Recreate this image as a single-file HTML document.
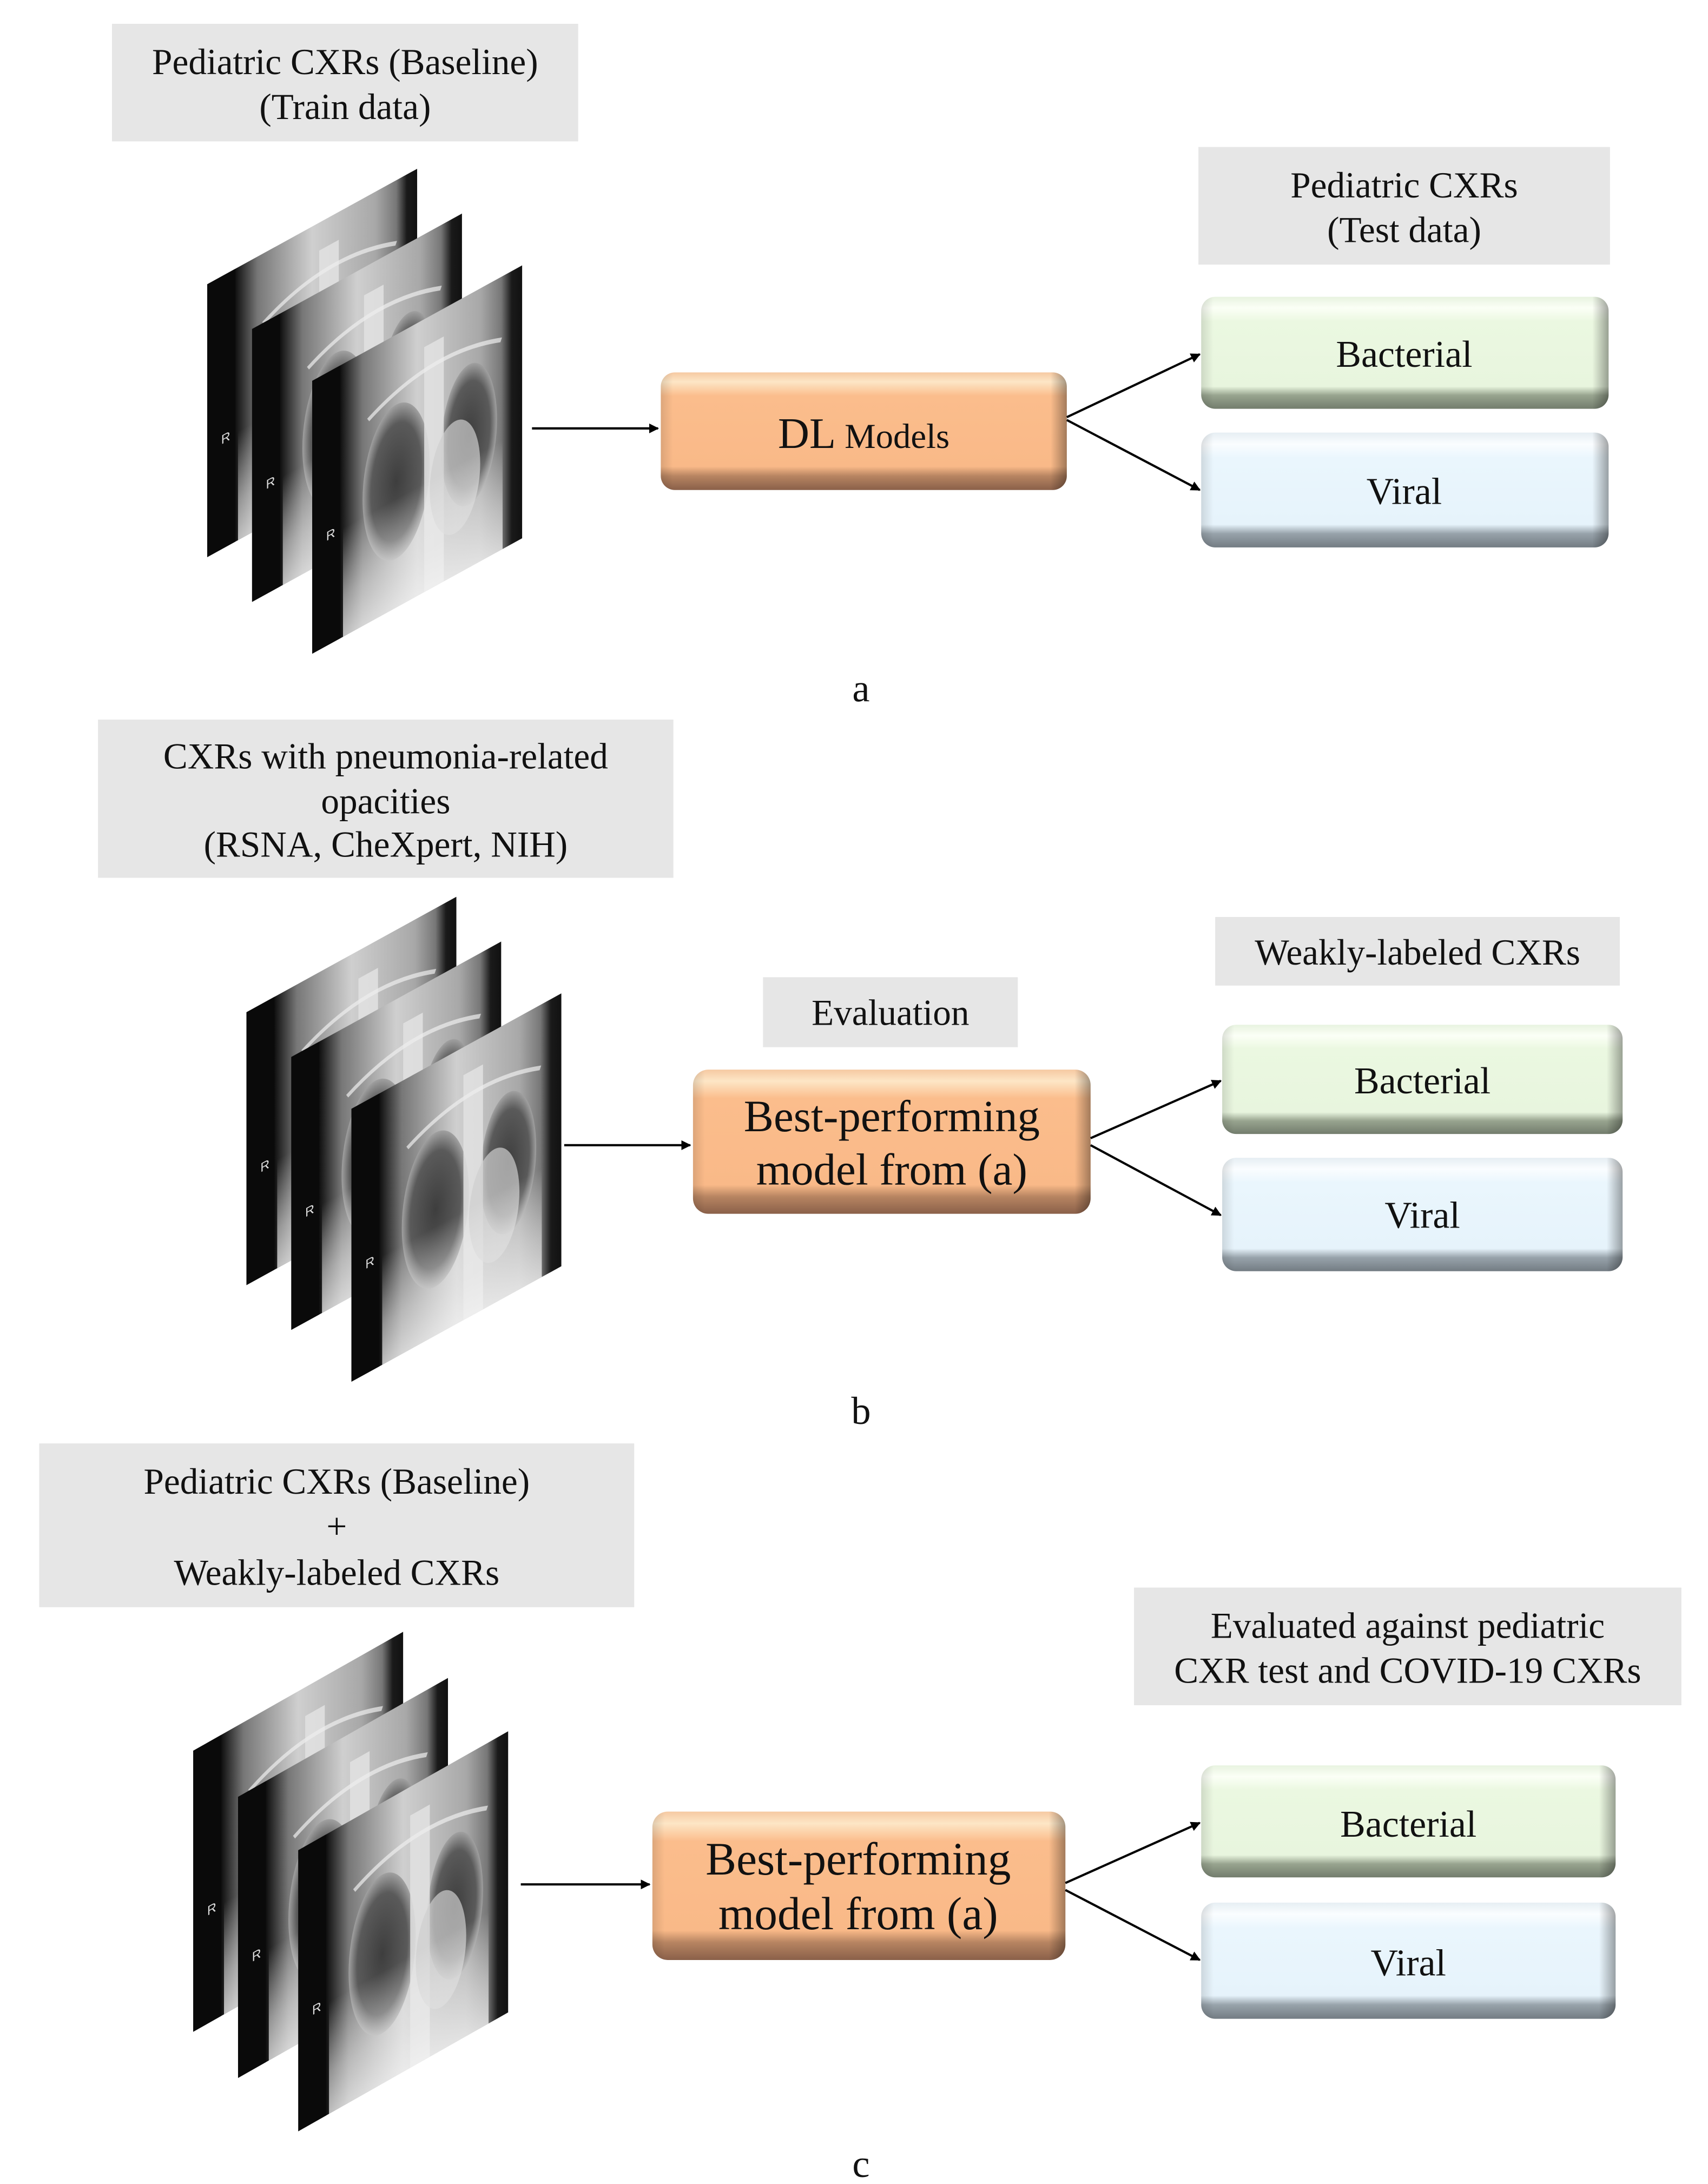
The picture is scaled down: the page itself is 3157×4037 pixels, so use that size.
<!DOCTYPE html>
<html><head><meta charset="utf-8">
<style>
html,body{margin:0;padding:0;background:#fff;}
svg{display:block;}
text{font-family:"Liberation Serif",serif;fill:#111;}
</style></head>
<body>
<svg width="3157" height="4037" viewBox="0 0 1220 1560" preserveAspectRatio="none" xmlns="http://www.w3.org/2000/svg">
<defs>
  <marker id="ah" viewBox="0 0 10 10" refX="9" refY="5" markerWidth="7" markerHeight="7" orient="auto" markerUnits="userSpaceOnUse">
    <path d="M0,0 L10,5 L0,10 z" fill="#000"/>
  </marker>
  <linearGradient id="gOr" x1="0" y1="0" x2="0" y2="1">
    <stop offset="0" stop-color="#f6c9a2"/>
    <stop offset="0.08" stop-color="#fde6c6"/>
    <stop offset="0.2" stop-color="#fbbd8c"/>
    <stop offset="0.8" stop-color="#f9b988"/>
    <stop offset="0.88" stop-color="#b88562"/>
    <stop offset="1" stop-color="#8a6049"/>
  </linearGradient>
  <linearGradient id="gGr" x1="0" y1="0" x2="0" y2="1">
    <stop offset="0" stop-color="#e8f3e0"/>
    <stop offset="0.1" stop-color="#fbfff6"/>
    <stop offset="0.22" stop-color="#ebf8e1"/>
    <stop offset="0.8" stop-color="#e8f5de"/>
    <stop offset="0.88" stop-color="#98a48f"/>
    <stop offset="1" stop-color="#737d6d"/>
  </linearGradient>
  <linearGradient id="gBl" x1="0" y1="0" x2="0" y2="1">
    <stop offset="0" stop-color="#e6eef3"/>
    <stop offset="0.1" stop-color="#fafdff"/>
    <stop offset="0.22" stop-color="#eaf6fd"/>
    <stop offset="0.8" stop-color="#e6f3fb"/>
    <stop offset="0.88" stop-color="#98a3ab"/>
    <stop offset="1" stop-color="#737c83"/>
  </linearGradient>
  <linearGradient id="gSide" x1="0" y1="0" x2="1" y2="0">
    <stop offset="0" stop-color="#000" stop-opacity="0.12"/>
    <stop offset="0.03" stop-color="#000" stop-opacity="0"/>
    <stop offset="0.96" stop-color="#000" stop-opacity="0"/>
    <stop offset="1" stop-color="#000" stop-opacity="0.35"/>
  </linearGradient>
  <linearGradient id="xBody" x1="0" y1="0" x2="1" y2="0">
    <stop offset="0" stop-color="#080808"/>
    <stop offset="0.13" stop-color="#0c0c0c"/>
    <stop offset="0.24" stop-color="#777"/>
    <stop offset="0.5" stop-color="#cfcfcf"/>
    <stop offset="0.8" stop-color="#a8a8a8"/>
    <stop offset="0.9" stop-color="#777"/>
    <stop offset="0.95" stop-color="#1a1a1a"/>
    <stop offset="1" stop-color="#111"/>
  </linearGradient>
  <linearGradient id="xBot" x1="0" y1="0" x2="0" y2="1">
    <stop offset="0.6" stop-color="#fff" stop-opacity="0"/>
    <stop offset="0.85" stop-color="#eee" stop-opacity="0.55"/>
    <stop offset="1" stop-color="#f4f4f4" stop-opacity="0.75"/>
  </linearGradient>
  <radialGradient id="lung" cx="0.5" cy="0.5" r="0.5">
    <stop offset="0" stop-color="#3e3e3e"/>
    <stop offset="0.75" stop-color="#5a5a5a"/>
    <stop offset="1" stop-color="#a0a0a0"/>
  </radialGradient>
  <clipPath id="xc"><rect x="0" y="0" width="150" height="195"/></clipPath>
  <g id="xray">
    <g clip-path="url(#xc)">
      <rect x="0" y="0" width="150" height="195" fill="url(#xBody)"/>
      <ellipse cx="60" cy="105" rx="24" ry="55" fill="url(#lung)"/>
      <ellipse cx="112" cy="100" rx="20" ry="50" fill="url(#lung)"/>
      <rect x="80" y="20" width="14" height="175" fill="#e2e2e2" opacity="0.85"/>
      <ellipse cx="102" cy="125" rx="18" ry="40" fill="#cfcfcf" opacity="0.7"/>
      <rect x="22" y="0" width="114" height="195" fill="url(#xBot)"/>
      <rect x="0" y="0" width="20" height="195" fill="#0a0a0a"/>
      <path d="M40,50 Q85,25 135,45" stroke="#eee" stroke-width="3" fill="none" opacity="0.7"/>
    </g>
    <text x="10" y="120" font-size="9" style="fill:#ddd;font-family:'Liberation Sans',sans-serif">R</text>
  </g>
  <g id="stack">
    <use href="#xray" transform="matrix(1,-0.55,0,1,0,83)"/>
    <use href="#xray" transform="matrix(1,-0.55,0,1,32,115)"/>
    <use href="#xray" transform="matrix(1,-0.55,0,1,75,152)"/>
  </g>
</defs>

<!-- ===== Panel a ===== -->
<rect x="80" y="17" width="333" height="84" fill="#e6e6e6"/>
<text x="246.5" y="53" font-size="26" text-anchor="middle">Pediatric CXRs (Baseline)</text>
<text x="246.5" y="85" font-size="26" text-anchor="middle">(Train data)</text>

<use href="#stack" transform="translate(148,120)"/>

<line x1="380" y1="306" x2="470" y2="306" stroke="#000" stroke-width="1.6" marker-end="url(#ah)"/>

<rect x="472" y="266" width="290" height="84" rx="10" fill="url(#gOr)"/>
<rect x="472" y="266" width="290" height="84" rx="10" fill="url(#gSide)"/>
<text x="617" y="320" text-anchor="middle"><tspan font-size="31">DL</tspan><tspan font-size="25"> Models</tspan></text>

<rect x="856" y="105" width="294" height="84" fill="#e6e6e6"/>
<text x="1003" y="141" font-size="26" text-anchor="middle">Pediatric CXRs</text>
<text x="1003" y="173" font-size="26" text-anchor="middle">(Test data)</text>

<line x1="762" y1="298" x2="857" y2="253" stroke="#000" stroke-width="1.6" marker-end="url(#ah)"/>
<line x1="762" y1="300" x2="857" y2="350" stroke="#000" stroke-width="1.6" marker-end="url(#ah)"/>

<rect x="858" y="212" width="291" height="80" rx="10" fill="url(#gGr)"/>
<rect x="858" y="212" width="291" height="80" rx="10" fill="url(#gSide)"/>
<text x="1003" y="262" font-size="27" text-anchor="middle">Bacterial</text>
<rect x="858" y="309" width="291" height="82" rx="10" fill="url(#gBl)"/>
<rect x="858" y="309" width="291" height="82" rx="10" fill="url(#gSide)"/>
<text x="1003" y="360" font-size="27" text-anchor="middle">Viral</text>

<text x="615" y="501" font-size="28" text-anchor="middle">a</text>

<!-- ===== Panel b ===== -->
<rect x="70" y="514" width="411" height="113" fill="#e6e6e6"/>
<text x="275.5" y="549" font-size="26" text-anchor="middle">CXRs with pneumonia-related</text>
<text x="275.5" y="581" font-size="26" text-anchor="middle">opacities</text>
<text x="275.5" y="612" font-size="26" text-anchor="middle">(RSNA, CheXpert, NIH)</text>

<use href="#stack" transform="translate(176,640)"/>

<line x1="403" y1="818" x2="493" y2="818" stroke="#000" stroke-width="1.6" marker-end="url(#ah)"/>

<rect x="545" y="698" width="182" height="50" fill="#e6e6e6"/>
<text x="636" y="732" font-size="26" text-anchor="middle">Evaluation</text>

<rect x="495" y="764" width="284" height="103" rx="11" fill="url(#gOr)"/>
<rect x="495" y="764" width="284" height="103" rx="11" fill="url(#gSide)"/>
<text x="637" y="808" font-size="32" text-anchor="middle">Best-performing</text>
<text x="637" y="846" font-size="32" text-anchor="middle">model from (a)</text>

<rect x="868" y="655" width="289" height="49" fill="#e6e6e6"/>
<text x="1012.5" y="689" font-size="26" text-anchor="middle">Weakly-labeled CXRs</text>

<line x1="779" y1="813" x2="872" y2="772" stroke="#000" stroke-width="1.6" marker-end="url(#ah)"/>
<line x1="779" y1="818" x2="872" y2="868" stroke="#000" stroke-width="1.6" marker-end="url(#ah)"/>

<rect x="873" y="732" width="286" height="78" rx="10" fill="url(#gGr)"/>
<rect x="873" y="732" width="286" height="78" rx="10" fill="url(#gSide)"/>
<text x="1016" y="781" font-size="27" text-anchor="middle">Bacterial</text>
<rect x="873" y="827" width="286" height="81" rx="10" fill="url(#gBl)"/>
<rect x="873" y="827" width="286" height="81" rx="10" fill="url(#gSide)"/>
<text x="1016" y="877" font-size="27" text-anchor="middle">Viral</text>

<text x="615" y="1017" font-size="28" text-anchor="middle">b</text>

<!-- ===== Panel c ===== -->
<rect x="28" y="1031" width="425" height="117" fill="#e6e6e6"/>
<text x="240.5" y="1067" font-size="26" text-anchor="middle">Pediatric CXRs (Baseline)</text>
<text x="240.5" y="1099" font-size="26" text-anchor="middle">+</text>
<text x="240.5" y="1132" font-size="26" text-anchor="middle">Weakly-labeled CXRs</text>

<use href="#stack" transform="translate(138,1165) scale(1.0,1.03)"/>

<line x1="372" y1="1346" x2="464" y2="1346" stroke="#000" stroke-width="1.6" marker-end="url(#ah)"/>

<rect x="466" y="1294" width="295" height="106" rx="11" fill="url(#gOr)"/>
<rect x="466" y="1294" width="295" height="106" rx="11" fill="url(#gSide)"/>
<text x="613" y="1339" font-size="33" text-anchor="middle">Best-performing</text>
<text x="613" y="1378" font-size="33" text-anchor="middle">model from (a)</text>

<rect x="810" y="1134" width="391" height="84" fill="#e6e6e6"/>
<text x="1005.5" y="1170" font-size="26" text-anchor="middle">Evaluated against pediatric</text>
<text x="1005.5" y="1202" font-size="26" text-anchor="middle">CXR test and COVID-19 CXRs</text>

<line x1="761" y1="1345" x2="857" y2="1302" stroke="#000" stroke-width="1.6" marker-end="url(#ah)"/>
<line x1="761" y1="1350" x2="857" y2="1400" stroke="#000" stroke-width="1.6" marker-end="url(#ah)"/>

<rect x="858" y="1261" width="296" height="80" rx="10" fill="url(#gGr)"/>
<rect x="858" y="1261" width="296" height="80" rx="10" fill="url(#gSide)"/>
<text x="1006" y="1312" font-size="27" text-anchor="middle">Bacterial</text>
<rect x="858" y="1359" width="296" height="83" rx="10" fill="url(#gBl)"/>
<rect x="858" y="1359" width="296" height="83" rx="10" fill="url(#gSide)"/>
<text x="1006" y="1411" font-size="27" text-anchor="middle">Viral</text>

<text x="615" y="1555" font-size="28" text-anchor="middle">c</text>
</svg>
</body></html>
